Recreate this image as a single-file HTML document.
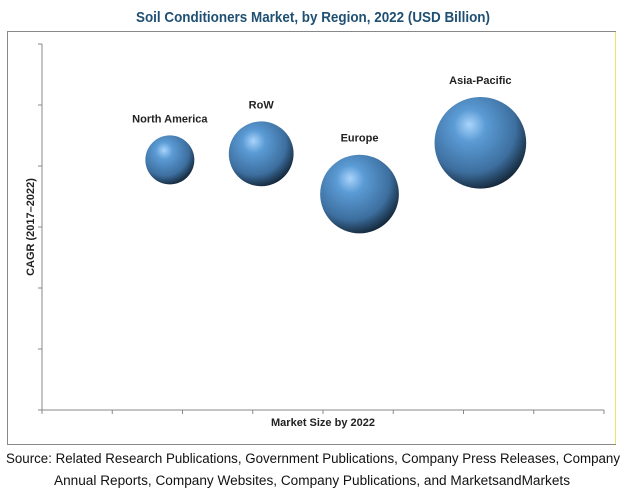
<!DOCTYPE html>
<html><head><meta charset="utf-8"><style>
body{margin:0;background:#fff;width:627px;height:494px;overflow:hidden;font-family:"Liberation Sans",sans-serif}
</style></head><body>
<svg width="627" height="494">
<defs>
<radialGradient id="g" cx="0.4" cy="0.35" r="0.7" fx="0.38" fy="0.3">
<stop offset="0" stop-color="#a9d4fb"/><stop offset="0.25" stop-color="#5b9bd5"/><stop offset="0.7" stop-color="#3d6f9f"/><stop offset="1" stop-color="#0f1e2d"/>
</radialGradient>
</defs>
<text x="313" y="22" text-anchor="middle" font-size="15" font-weight="bold" fill="#1f5073" textLength="354" lengthAdjust="spacingAndGlyphs">Soil Conditioners Market, by Region, 2022 (USD Billion)</text>
<rect x="7.5" y="31.5" width="608" height="413" fill="none" stroke="#888"/>
<line x1="615.5" y1="32" x2="615.5" y2="444" stroke="#e8e66a"/>
<g id="axes"></g>
<g id="bubbles"></g>
<text transform="translate(34,227) rotate(-90)" text-anchor="middle" font-size="11" font-weight="bold" fill="#222">CAGR (2017–2022)</text>
<text x="323" y="426" text-anchor="middle" font-size="11" font-weight="bold" fill="#222">Market Size by 2022</text>
<text x="313" y="463" text-anchor="middle" font-size="13.5" fill="#111" textLength="614" lengthAdjust="spacingAndGlyphs">Source: Related Research Publications, Government Publications, Company Press Releases, Company</text>
<text x="312" y="485" text-anchor="middle" font-size="13.5" fill="#111" textLength="516" lengthAdjust="spacingAndGlyphs">Annual Reports, Company Websites, Company Publications, and MarketsandMarkets</text>
</svg>
<script>
const regions=["North America","RoW","Europe","Asia-Pacific"];
const marketSize=[1.82,3.12,4.52,6.24];
const cagr=[4.1,4.2,3.54,4.38];
const bubbleSize=[6,10.5,15.5,21];
const xTicks=[0,1,2,3,4,5,6,7,8];
const yTicks=[0,1,2,3,4,5,6];
const NS="http://www.w3.org/2000/svg";
const X0=42,XW=70.25,Y0=410,YH=61;
function xs(v){return X0+v*XW;}
function ys(v){return Y0-v*YH;}
function rs(v){return 10*Math.sqrt(v);}
function mk(t,a,p){const e=document.createElementNS(NS,t);for(const k in a)e.setAttribute(k,a[k]);p.appendChild(e);return e;}
const ax=document.getElementById('axes');
let l=mk('line',{x1:xs(0),y1:ys(0),x2:xs(0),y2:ys(6),stroke:'#888'},ax);


l=mk('line',{x1:xs(0),y1:ys(0),x2:xs(8),y2:ys(0),stroke:'#888'},ax);


yTicks.forEach(t=>{const e=mk('line',{x1:xs(0)-4,y1:ys(t),x2:xs(0),y2:ys(t),stroke:'#888'},ax);

});
xTicks.forEach(t=>{const e=mk('line',{x1:xs(t),y1:ys(0),x2:xs(t),y2:ys(0)+4,stroke:'#888'},ax);

});
const bg=document.getElementById('bubbles');
regions.forEach((n,i)=>{
 const r=rs(bubbleSize[i]),cx=xs(marketSize[i]),cy=ys(cagr[i]);
 const c=mk('circle',{cx:cx,cy:cy,r:r,fill:'url(#g)'},bg);
 
 
 const t=mk('text',{x:cx,y:cy-r-13,'text-anchor':'middle','font-size':'11','font-weight':'bold',fill:'#222'},bg);
 t.textContent=n;
 
 
});
</script>
</body></html>
